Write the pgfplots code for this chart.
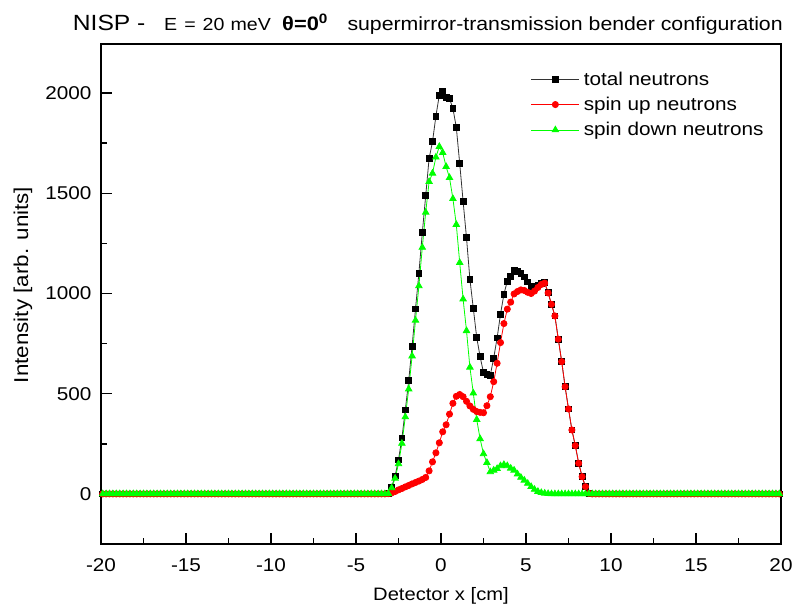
\documentclass[border=0pt]{standalone}
\usepackage{fontspec}
\setmainfont{Liberation Sans}[FakeStretch=1.12]
\usepackage{pgfplots}
\pgfplotsset{compat=1.18}
\usepackage{pgfplotstable}
\definecolor{pgreen}{RGB}{0,255,0}
\definecolor{pred}{RGB}{255,0,0}

\pgfplotstableread[row sep=\\]{
x t u d \\
-19.9 0 0 0 \\ -19.7 0 0 0 \\ -19.5 0 0 0 \\ -19.3 0 0 0 \\ -19.1 0 0 0 \\
-18.9 0 0 0 \\ -18.7 0 0 0 \\ -18.5 0 0 0 \\ -18.3 0 0 0 \\ -18.1 0 0 0 \\
-17.9 0 0 0 \\ -17.7 0 0 0 \\ -17.5 0 0 0 \\ -17.3 0 0 0 \\ -17.1 0 0 0 \\
-16.9 0 0 0 \\ -16.7 0 0 0 \\ -16.5 0 0 0 \\ -16.3 0 0 0 \\ -16.1 0 0 0 \\
-15.9 0 0 0 \\ -15.7 0 0 0 \\ -15.5 0 0 0 \\ -15.3 0 0 0 \\ -15.1 0 0 0 \\
-14.9 0 0 0 \\ -14.7 0 0 0 \\ -14.5 0 0 0 \\ -14.3 0 0 0 \\ -14.1 0 0 0 \\
-13.9 0 0 0 \\ -13.7 0 0 0 \\ -13.5 0 0 0 \\ -13.3 0 0 0 \\ -13.1 0 0 0 \\
-12.9 0 0 0 \\ -12.7 0 0 0 \\ -12.5 0 0 0 \\ -12.3 0 0 0 \\ -12.1 0 0 0 \\
-11.9 0 0 0 \\ -11.7 0 0 0 \\ -11.5 0 0 0 \\ -11.3 0 0 0 \\ -11.1 0 0 0 \\
-10.9 0 0 0 \\ -10.7 0 0 0 \\ -10.5 0 0 0 \\ -10.3 0 0 0 \\ -10.1 0 0 0 \\
-9.9 0 0 0 \\ -9.7 0 0 0 \\ -9.5 0 0 0 \\ -9.3 0 0 0 \\ -9.1 0 0 0 \\
-8.9 0 0 0 \\ -8.7 0 0 0 \\ -8.5 0 0 0 \\ -8.3 0 0 0 \\ -8.1 0 0 0 \\
-7.9 0 0 0 \\ -7.7 0 0 0 \\ -7.5 0 0 0 \\ -7.3 0 0 0 \\ -7.1 0 0 0 \\
-6.9 0 0 0 \\ -6.7 0 0 0 \\ -6.5 0 0 0 \\ -6.3 0 0 0 \\ -6.1 0 0 0 \\
-5.9 0 0 0 \\ -5.7 0 0 0 \\ -5.5 0 0 0 \\ -5.3 0 0 0 \\ -5.1 0 0 0 \\
-4.9 0 0 0 \\ -4.7 0 0 0 \\ -4.5 0 0 0 \\ -4.3 0 0 0 \\ -4.1 0 0 0 \\
-3.9 0 0 0 \\ -3.7 0 0 0 \\ -3.5 0 0 0 \\ -3.3 0 0 0 \\
-3.1 3 1 2 \\
-2.9 35 5 30 \\
-2.7 90 12 78 \\
-2.5 170 20 150 \\
-2.3 279 27 252 \\
-2.1 419 35 384 \\
-1.9 565 42 523 \\
-1.7 738 50 688 \\
-1.5 923 57 866 \\
-1.3 1102 64 1038 \\
-1.1 1303 72 1230 \\
-0.9 1488 82 1405 \\
-0.7 1674 115 1558 \\
-0.5 1757 160 1600 \\
-0.3 1885 205 1680 \\
-0.1 1990 255 1733 \\
0.1 2011 310 1703 \\
0.3 1979 345 1633 \\
0.5 1972 398 1578 \\
0.7 1924 452 1473 \\
0.9 1829 487 1344 \\
1.1 1649 496 1154 \\
1.3 1460 485 972 \\
1.5 1278 462 814 \\
1.7 1071 439 632 \\
1.9 926 422 503 \\
2.1 781 411 371 \\
2.3 685 407 275 \\
2.5 605 405 200 \\
2.7 597 440 156 \\
2.9 593 485 110 \\
3.1 678 560 118 \\
3.3 778 652 126 \\
3.5 897 755 140 \\
3.7 996 850 146 \\
3.9 1062 922 140 \\
4.1 1085 957 128 \\
4.3 1116 998 118 \\
4.5 1109 1010 99 \\
4.7 1100 1018 82 \\
4.9 1083 1015 68 \\
5.1 1058 1006 52 \\
5.3 1036 1000 36 \\
5.5 1034 1012 22 \\
5.7 1042 1030 12 \\
5.9 1051 1045 6 \\
6.1 1055 1052 3 \\
6.3 1004 1003 1 \\
6.5 946 946 0 \\
6.7 888 888 0 \\
6.9 772 772 0 \\
7.1 660 660 0 \\
7.3 535 535 0 \\
7.5 424 424 0 \\
7.7 319 319 0 \\
7.9 241 241 0 \\
8.1 153 153 0 \\
8.3 86 86 0 \\
8.5 36 36 0 \\
8.7 3 3 0 \\
8.9 0 0 0 \\ 9.1 0 0 0 \\ 9.3 0 0 0 \\ 9.5 0 0 0 \\ 9.7 0 0 0 \\ 9.9 0 0 0 \\
10.1 0 0 0 \\ 10.3 0 0 0 \\ 10.5 0 0 0 \\ 10.7 0 0 0 \\ 10.9 0 0 0 \\
11.1 0 0 0 \\ 11.3 0 0 0 \\ 11.5 0 0 0 \\ 11.7 0 0 0 \\ 11.9 0 0 0 \\
12.1 0 0 0 \\ 12.3 0 0 0 \\ 12.5 0 0 0 \\ 12.7 0 0 0 \\ 12.9 0 0 0 \\
13.1 0 0 0 \\ 13.3 0 0 0 \\ 13.5 0 0 0 \\ 13.7 0 0 0 \\ 13.9 0 0 0 \\
14.1 0 0 0 \\ 14.3 0 0 0 \\ 14.5 0 0 0 \\ 14.7 0 0 0 \\ 14.9 0 0 0 \\
15.1 0 0 0 \\ 15.3 0 0 0 \\ 15.5 0 0 0 \\ 15.7 0 0 0 \\ 15.9 0 0 0 \\
16.1 0 0 0 \\ 16.3 0 0 0 \\ 16.5 0 0 0 \\ 16.7 0 0 0 \\ 16.9 0 0 0 \\
17.1 0 0 0 \\ 17.3 0 0 0 \\ 17.5 0 0 0 \\ 17.7 0 0 0 \\ 17.9 0 0 0 \\
18.1 0 0 0 \\ 18.3 0 0 0 \\ 18.5 0 0 0 \\ 18.7 0 0 0 \\ 18.9 0 0 0 \\
19.1 0 0 0 \\ 19.3 0 0 0 \\ 19.5 0 0 0 \\ 19.7 0 0 0 \\ 19.9 0 0 0 \\
}\neutrons

\begin{document}
\begin{tikzpicture}
\begin{axis}[
  at={(0pt,0pt)}, anchor=south west,
  scale only axis, width=680pt, height=500pt,
  xmin=-20, xmax=20, ymin=-250, ymax=2245,
  xtick={-20,-15,...,20}, ytick={0,500,...,2000},
  minor x tick num=1, minor y tick num=1,
  xtick pos=left, ytick pos=left,
  tick align=inside,
  major tick length=11pt, minor tick length=6pt,
  every tick/.style={black, line width=1.4pt},
  separate axis lines,
  axis line style={line width=1.8pt, line cap=rect},
  /pgf/number format/assume math mode=true,
  /pgf/number format/1000 sep={},
  tick label style={font=\fontsize{18.5}{20}\selectfont},
  xticklabel style={yshift=-11pt},
  yticklabel style={xshift=-6pt},
  xlabel={Detector x [cm]},
  ylabel={Intensity [arb. units]},
  xlabel style={font=\fontsize{18}{20}\selectfont, at={(axis description cs:0.5,-0.104)}, anchor=center},
  ylabel style={font=\fontsize{20}{22}\selectfont, at={(axis description cs:-0.1147,0.518)}, anchor=center},
  legend style={at={(axis description cs:0.632,0.947)}, anchor=north west,
    draw=none, fill=none, font=\fontsize{18.5}{21}\selectfont, row sep=8.5pt,
    inner sep=0pt, nodes={inner xsep=4pt, inner ysep=1pt}},
  legend cell align=left,
  legend image code/.code={\draw[mark repeat=2,mark phase=2,#1] plot coordinates {(0pt,0pt) (24pt,0pt) (48pt,0pt)};},
]
\addplot[color=black!80, line width=0.8pt, mark=square*, mark size=2.9pt,
  mark options={fill=black, draw=black, solid}] table[x=x, y=t]{\neutrons};
\addlegendentry{total neutrons}
\addplot[color=pred, line width=0.8pt, mark=*, mark size=3.1pt,
  mark options={fill=pred, draw=pred, solid}] table[x=x, y=u]{\neutrons};
\addlegendentry{spin up neutrons}
\addplot[color=pgreen, line width=0.8pt, mark=triangle*, mark size=3.7pt,
  mark options={fill=pgreen, draw=pgreen, solid}] table[x=x, y=d]{\neutrons};
\addlegendentry{spin down neutrons}
\end{axis}
\node[anchor=base west, inner sep=0pt, font=\fontsize{22}{24}\selectfont] at (-28.3pt,513.3pt) {NISP -};
\node[anchor=base west, inner sep=0pt, font=\fontsize{17.5}{19}\selectfont] at (63pt,513.3pt) {E\hspace{0.4em}=\hspace{0.4em}20\hspace{0.35em}meV};
\node[anchor=base west, inner sep=0pt, font=\fontsize{19.5}{21}\selectfont\bfseries] at (181pt,513.3pt) {θ=0\textsuperscript{0}};
\node[anchor=base west, inner sep=0pt, font=\fontsize{19}{21}\selectfont] at (246.3pt,513.3pt) {supermirror-transmission bender configuration};
\pgfresetboundingbox
\path[use as bounding box] (-101pt,-62pt) rectangle (698pt,544pt);
\end{tikzpicture}
\end{document}
